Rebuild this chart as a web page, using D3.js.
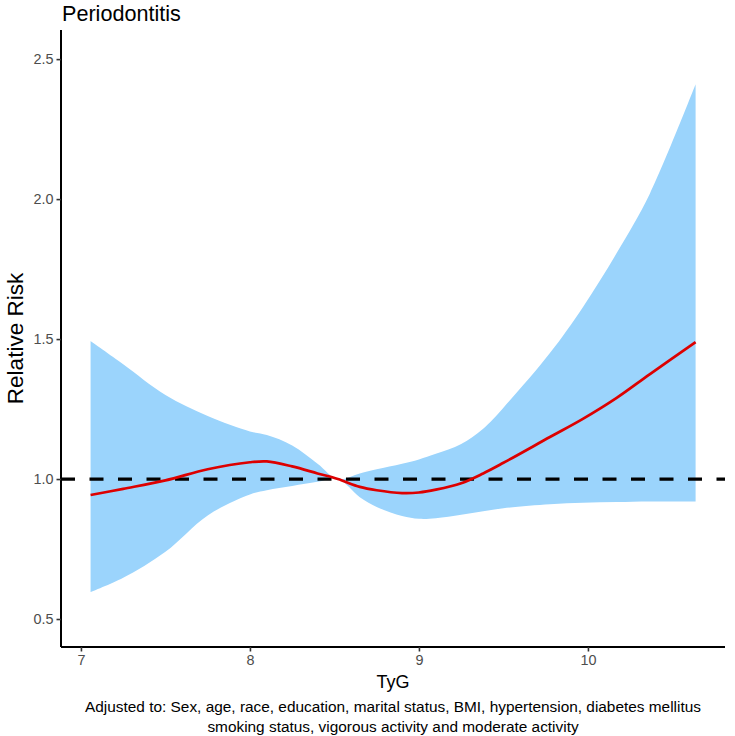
<!DOCTYPE html>
<html><head><meta charset="utf-8">
<script src="https://cdn.jsdelivr.net/npm/d3@7"></script>
<style>body{margin:0;background:#fff}text{font-family:"Liberation Sans",Arial,sans-serif}</style>
</head><body><svg id="c" width="735" height="736"></svg>
<script>
const tyg   = [7.057, 7.25, 7.5, 7.75, 8.0, 8.1, 8.25, 8.4, 8.52, 8.65, 8.75, 8.9, 9.0, 9.1, 9.25, 9.38, 9.5, 9.775, 9.97, 10.17, 10.367, 10.637];
const rr    = [0.943, 0.965, 0.995, 1.035, 1.06, 1.063, 1.045, 1.02, 1.0, 0.972, 0.96, 0.95, 0.952, 0.962, 0.985, 1.02, 1.058, 1.15, 1.215, 1.29, 1.375, 1.489];
const upper = [1.493, 1.41, 1.30, 1.225, 1.17, 1.157, 1.12, 1.055, 1.0, 1.02, 1.035, 1.055, 1.07, 1.09, 1.125, 1.18, 1.255, 1.45, 1.614, 1.807, 2.02, 2.41];
const lower = [0.596, 0.647, 0.74, 0.87, 0.945, 0.96, 0.975, 0.99, 1.0, 0.935, 0.9, 0.868, 0.858, 0.86, 0.872, 0.885, 0.896, 0.91, 0.915, 0.918, 0.92, 0.92];
const xTicks = [7, 8, 9, 10];
const yTicks = [0.5, 1.0, 1.5, 2.0, 2.5];
const refLine = 1.0;

const svg = d3.select("#c");
const L = 61, R = 725, T = 30, B = 647;
const x = d3.scaleLinear().domain([6.882, 10.811]).range([L, R]);
const y = d3.scaleLinear().domain([0.4, 2.604]).range([B, T]);
const data = tyg.map((t, i) => ({t, rr: rr[i], up: upper[i], lo: lower[i]}));
const crv = d3.curveCatmullRom.alpha(0.5);

svg.append("path").datum(data)
  .attr("fill", "#9bd4fc")
  .attr("d", d3.area().x(d => x(d.t)).y0(d => y(d.lo)).y1(d => y(d.up)).curve(crv));

svg.append("line").attr("x1", L).attr("x2", R).attr("y1", y(refLine)).attr("y2", y(refLine))
  .attr("stroke", "#000").attr("stroke-width", 3.2).attr("stroke-dasharray", "14,14.5");

svg.append("path").datum(data)
  .attr("fill", "none").attr("stroke", "#dd0000").attr("stroke-width", 2.7)
  .attr("d", d3.line().x(d => x(d.t)).y(d => y(d.rr)).curve(crv));

const xa = svg.append("g").attr("transform", `translate(0,${B})`)
  .call(d3.axisBottom(x).tickValues(xTicks).tickSize(4.5).tickPadding(3).tickFormat(d3.format("d")));
const ya = svg.append("g").attr("transform", `translate(${L},0)`)
  .call(d3.axisLeft(y).tickValues(yTicks).tickSize(4.5).tickPadding(3).tickFormat(d3.format(".1f")));
[xa, ya].forEach(a => {
  a.attr("font-size", 14.4).attr("font-family", '"Liberation Sans",Arial,sans-serif');
  a.select(".domain").attr("stroke", "#000").attr("stroke-width", 2);
  a.selectAll(".tick line").attr("stroke", "#333").attr("stroke-width", 1.6);
  a.selectAll(".tick text").attr("fill", "#4d4d4d").attr("font-size", 14.4);
});
xa.select(".domain").attr("d", `M${L},0H${R}`);
ya.select(".domain").attr("d", `M0,${T}V${B}`);

svg.append("text").attr("x", 62).attr("y", 20.5).attr("font-size", 21.6).attr("fill", "#000").text("Periodontitis");
svg.append("text").attr("x", (L + R) / 2).attr("y", 688).attr("text-anchor", "middle").attr("font-size", 18).text("TyG");
svg.append("text").attr("transform", `translate(23,${(T + B) / 2}) rotate(-90)`).attr("text-anchor", "middle")
  .attr("font-size", 22.5).text("Relative Risk");
const cap = ["Adjusted to: Sex, age, race, education, marital status, BMI, hypertension, diabetes mellitus",
             "smoking status, vigorous activity and moderate activity"];
cap.forEach((s, i) => svg.append("text").attr("x", 393).attr("y", 712 + i * 20)
  .attr("text-anchor", "middle").attr("font-size", 15.4).text(s));
</script></body></html>
